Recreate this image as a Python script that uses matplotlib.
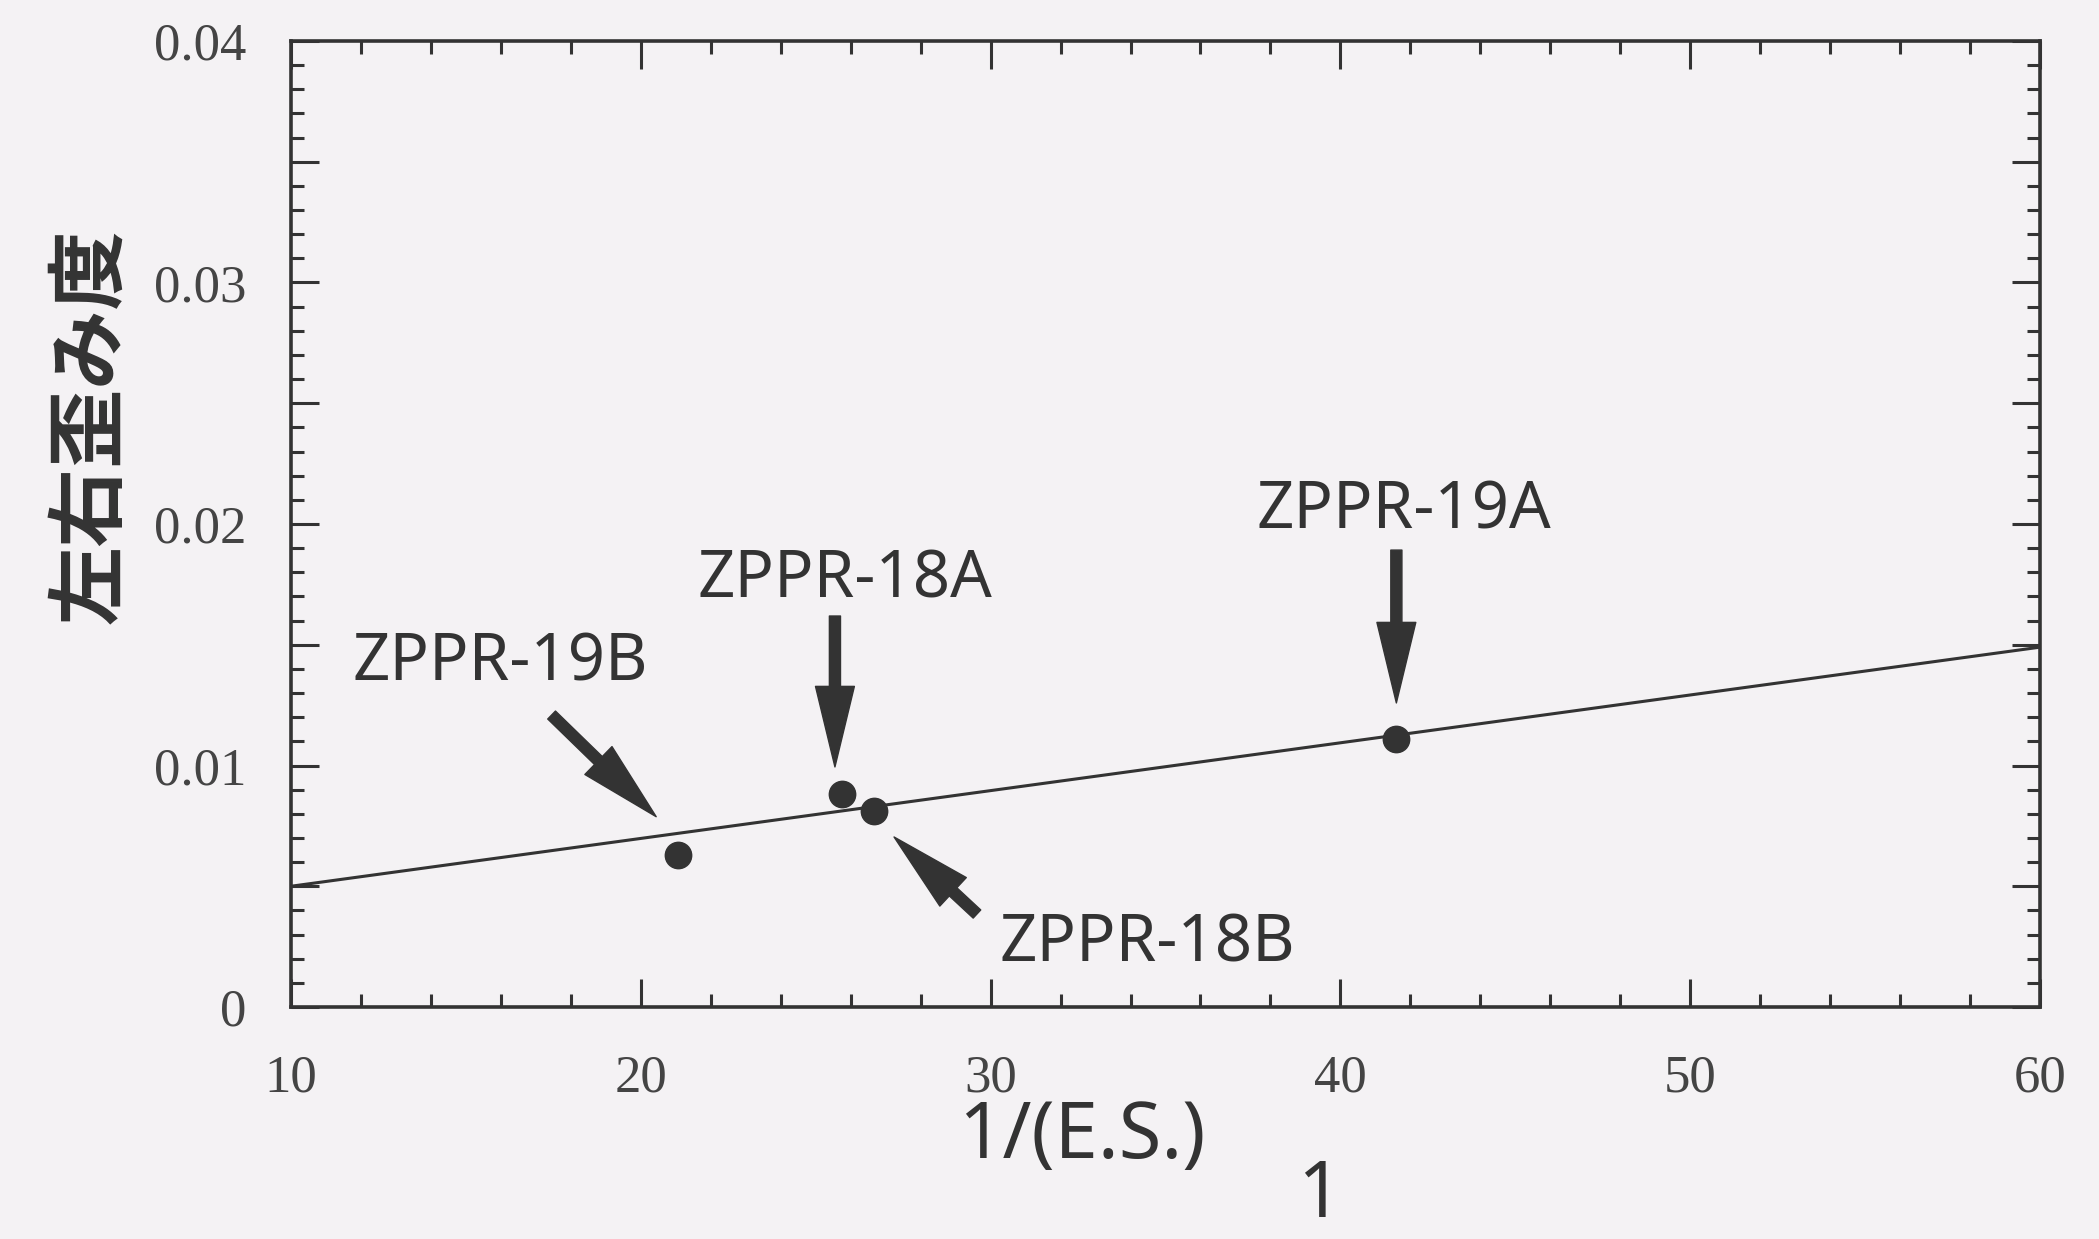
import matplotlib
matplotlib.use("Agg")
import matplotlib.pyplot as plt
from matplotlib.ticker import MultipleLocator, FuncFormatter

# data
cores = ["ZPPR-19B", "ZPPR-18A", "ZPPR-18B", "ZPPR-19A"]
inv_es = [21.05, 25.75, 26.67, 41.6]
skew = [0.0063, 0.0088, 0.0081, 0.0111]
fit_x = [10, 60]
fit_y = [0.0050, 0.0149]

# where the labels and arrows sit (data coords)
label_xy = [(15.97, 0.01354), (25.84, 0.01694), (34.48, 0.0019), (41.82, 0.01983)]
arrow_tail = [(17.45, 0.01209), (25.55, 0.01619), (29.61, 0.00385), (41.6, 0.01892)]
arrow_tip = [(20.44, 0.00788), (25.55, 0.00994), (27.24, 0.00704), (41.6, 0.01259)]

ink = "#333333"
bg = "#f4f2f4"

fig = plt.figure(figsize=(20.99, 12.39), dpi=100, facecolor=bg)
ax = fig.add_axes([291/2099, 1-1007/1239, (2040-291)/2099, (1007-41)/1239])
ax.set_facecolor(bg)

ax.plot(fit_x, fit_y, color=ink, lw=2.2, zorder=2)
ax.plot(inv_es, skew, "o", color=ink, ms=19, zorder=3)

for name, (lx, ly), tail, tip in zip(cores, label_xy, arrow_tail, arrow_tip):
    ax.text(lx, ly, name, ha="center", va="baseline", fontsize=47,
            family="Noto Sans", color=ink)
    ax.annotate("", xy=tip, xytext=tail,
                arrowprops=dict(arrowstyle="simple,head_length=58,head_width=28,tail_width=8",
                                mutation_scale=1, color=ink, shrinkA=0, shrinkB=0))

ax.set_xlim(10, 60)
ax.set_ylim(0, 0.04)
ax.xaxis.set_major_locator(MultipleLocator(10))
ax.xaxis.set_minor_locator(MultipleLocator(2))
ax.yaxis.set_major_locator(MultipleLocator(0.005))
ax.yaxis.set_minor_locator(MultipleLocator(0.001))

def yfmt(v, pos):
    if abs(v) < 1e-9:
        return "0"
    if round(v / 0.005) % 2 == 1:
        return ""
    return "%.2f" % v

ax.yaxis.set_major_formatter(FuncFormatter(yfmt))

ax.tick_params(which="both", direction="in", top=True, right=True, color=ink, width=2.2)
ax.tick_params(which="major", length=20)
ax.tick_params(which="minor", length=9.5)
ax.tick_params(axis="y", which="major", pad=32)
ax.tick_params(axis="x", which="major", pad=34)
for lab in ax.get_xticklabels() + ax.get_yticklabels():
    lab.set_family("Liberation Serif")
    lab.set_fontsize(38)
    lab.set_color("#444444")
for s in ax.spines.values():
    s.set_linewidth(2.6)
    s.set_color(ink)

# axis titles
fig.text(1082/2099, 1-1158/1239, "1/(E.S.)", ha="center", va="baseline",
         fontsize=56, family="Noto Sans", color=ink)
fig.text(1319/2099, 1-1236/1239, "1", ha="center", va="bottom",
         fontsize=56, family="Noto Sans", color=ink)
fig.text(91/2099, 1-426/1239, "左右歪み度", rotation=90, ha="center", va="center",
         fontsize=57, fontweight="bold", family=["Noto Sans CJK JP", "DejaVu Sans"], color=ink)

fig.savefig("out.png", dpi=100, facecolor=bg)
